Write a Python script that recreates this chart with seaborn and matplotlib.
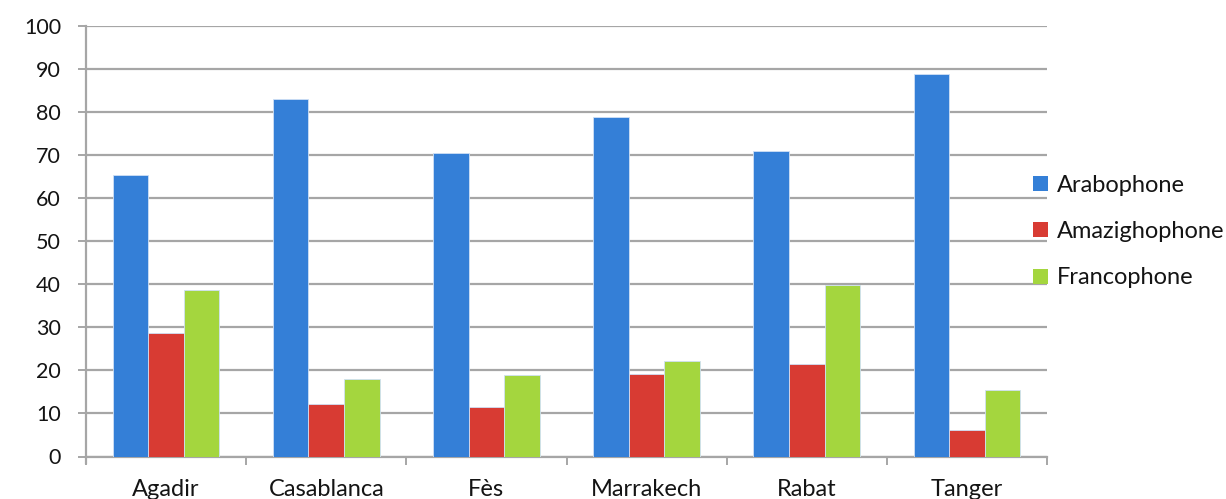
import matplotlib
matplotlib.use("Agg")
import matplotlib.pyplot as plt
import seaborn as sns
import pandas as pd
from matplotlib.patches import Patch
from matplotlib.ticker import FixedLocator

# Share of respondents per city and language profile (%)
cities = ["Agadir", "Casablanca", "Fès", "Marrakech", "Rabat", "Tanger"]
arabophone = [65.5, 83.1, 70.5, 78.9, 70.9, 88.8]
amazighophone = [28.8, 12.2, 11.4, 19.2, 21.4, 6.1]
francophone = [38.6, 17.9, 19.0, 22.1, 39.9, 15.4]

series_names = ["Arabophone", "Amazighophone", "Francophone"]
series_colors = ["#347fd7", "#d83b33", "#a4d63e"]

df = pd.DataFrame({
    "ville": cities * 3,
    "groupe": [s for s in series_names for _ in cities],
    "pct": arabophone + amazighophone + francophone,
})

sns.set_theme(style="white")
plt.rcParams["font.family"] = ["Lato", "DejaVu Sans"]

text_color = "#141414"

fig = plt.figure(figsize=(12.26, 4.99), dpi=100)
ax = fig.add_axes([86 / 1226, 1 - 456.5 / 499, (1047 - 86) / 1226, (456.5 - 26) / 499])

sns.barplot(data=df, x="ville", y="pct", hue="groupe", hue_order=series_names,
            palette=series_colors, saturation=1, width=0.667, ax=ax,
            legend=False, zorder=3)

for p in ax.patches:
    p.set_edgecolor("#cfe0f5")
    p.set_linewidth(0.6)

ax.set_ylim(0, 100)
ax.set_xlim(-0.5, len(cities) - 0.5)
ax.set_yticks(range(0, 101, 10))
ax.set_xlabel("")
ax.set_ylabel("")

grid_color = "#a6a6a6"
ax.yaxis.grid(True, color=grid_color, linewidth=1.6, zorder=0)
ax.xaxis.grid(False)
ax.set_axisbelow(True)

for side in ["top", "right"]:
    ax.spines[side].set_visible(False)
for side in ["left", "bottom"]:
    ax.spines[side].set_color(grid_color)
    ax.spines[side].set_linewidth(1.6)

# category boundary ticks on the x axis
ax.xaxis.set_minor_locator(FixedLocator([i - 0.5 for i in range(len(cities) + 1)]))
ax.tick_params(axis="x", which="major", length=0, pad=16, labelsize=17, labelcolor=text_color)
ax.tick_params(axis="x", which="minor", bottom=True, length=6, width=1.4, color=grid_color)
ax.tick_params(axis="y", left=True, length=6, width=1.4, color=grid_color,
               pad=12, labelsize=15.5, labelcolor=text_color)
ax.spines["left"].set_bounds(-1.6, 100)

handles = [Patch(facecolor=c, edgecolor="none", label=s) for s, c in zip(series_names, series_colors)]
fig.legend(handles=handles, loc="center left",
           bbox_to_anchor=(1033 / 1226, 1 - 231.5 / 499),
           frameon=False, fontsize=17, handlelength=0.62, handleheight=0.62,
           handletextpad=0.4, labelspacing=1.08, borderpad=0, borderaxespad=0,
           labelcolor=text_color)

fig.savefig("out.png", dpi=100)
